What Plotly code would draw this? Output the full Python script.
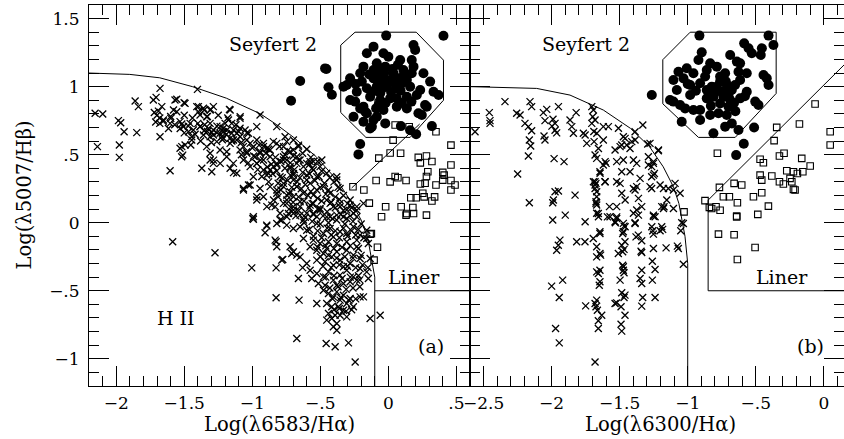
import plotly.graph_objects as go

# ---------------- data ----------------
# panel (a): log([NII]6583/Ha) vs log([OIII]5007/Hb)
a_hii_pts = [
    (-2.155, 0.804), (-2.099, 0.799), (-2.138, 0.559), (-1.984, 0.750), (-1.967, 0.735), (-1.942, 0.669),
    (-1.977, 0.571), (-1.977, 0.480), (-1.861, 0.894), (-1.837, 0.853), (-1.849, 0.662), (-1.727, 0.902),
    (-1.707, 0.921), (-1.678, 0.987), (-1.665, 0.853), (-1.72, 0.81), (-1.70, 0.79), (-1.68, 0.77),
    (-1.71, 0.74), (-1.68, 0.73), (-1.655, 0.745), (-1.69, 0.82), (-1.678, 0.632), (-1.604, 0.382),
    (-1.555, 0.907), (-1.501, 0.882), (-1.579, 0.828), (-1.599, 0.767), (-1.616, 0.693), (-1.518, 0.725),
    (-1.506, 0.706), (-1.530, 0.693), (-1.469, 0.669), (-1.518, 0.559), (-1.511, 0.497), (-1.403, 0.980),
    (-1.396, 0.853), (-1.354, 0.828), (-1.305, 0.833), (-1.384, 0.792), (-1.384, 0.706), (-1.354, 0.676),
    (-1.322, 0.693), (-1.298, 0.662), (-1.285, 0.645), (-1.359, 0.645), (-1.371, 0.400), (-1.298, 0.375),
    (-1.445, 0.632), (-1.452, 0.571), (-1.168, 0.833), (-1.089, 0.779), (-1.236, 0.706), (-1.212, 0.669),
    (-1.187, 0.681), (-1.151, 0.657), (-1.224, 0.632), (-1.163, 0.620), (-1.138, 0.608), (-1.114, 0.657),
    (-1.089, 0.632), (-1.31, 0.51), (-1.285, 0.460), (-1.236, 0.436), (-1.163, 0.400), (-1.138, 0.368),
    (-1.568, 0.902), (-1.555, 0.816), (-1.494, 0.877), (-1.408, 0.853), (-1.396, 0.816), (-1.359, 0.841),
    (-1.310, 0.828), (-1.286, 0.853), (-1.335, 0.779), (-1.163, 0.828), (-1.090, 0.767), (-1.175, 0.755),
    (-0.943, 0.792), (-1.653, 0.755), (-1.604, 0.730), (-1.531, 0.743), (-1.506, 0.706), (-1.457, 0.730),
    (-1.433, 0.681), (-1.384, 0.706), (-1.310, 0.730), (-1.286, 0.681), (-1.237, 0.657), (-1.212, 0.694),
    (-1.151, 0.730), (-1.139, 0.681), (-1.090, 0.694), (-1.053, 0.681), (-1.028, 0.657), (-0.967, 0.706),
    (-1.310, 0.632), (-1.261, 0.596), (-1.212, 0.620), (-1.163, 0.583), (-1.114, 0.608), (-1.065, 0.559),
    (-1.016, 0.583), (-0.967, 0.608), (-0.918, 0.559), (-0.869, 0.534), (-0.820, 0.583), (-0.771, 0.559),
    (-0.722, 0.522), (-1.237, 0.534), (-1.188, 0.522), (-1.335, 0.559), (-1.494, 0.571), (-1.445, 0.608),
    (-1.090, 0.534), (-1.041, 0.522), (-0.943, 0.510), (-0.845, 0.596), (-0.747, 0.596), (-0.698, 0.534),
    (-1.531, 0.547), (-1.519, 0.485), (-1.310, 0.461), (-1.286, 0.436), (-1.188, 0.485), (-1.139, 0.436),
    (-1.065, 0.461), (-1.016, 0.412), (-0.967, 0.436), (-0.918, 0.461), (-0.869, 0.387), (-0.820, 0.424),
    (-0.771, 0.461), (-0.722, 0.400), (-0.673, 0.436), (-0.624, 0.412), (-0.600, 0.350), (-0.551, 0.387),
    (-0.502, 0.412), (-0.453, 0.363), (-0.649, 0.461), (-0.575, 0.449), (-1.114, 0.363), (-0.992, 0.338),
    (-0.894, 0.350), (-0.796, 0.338), (-0.698, 0.350), (-0.526, 0.338), (-1.065, 0.252), (-1.016, 0.277),
    (-0.967, 0.191), (-0.943, 0.252), (-0.869, 0.265), (-0.820, 0.240), (-0.771, 0.289), (-0.722, 0.228),
    (-0.673, 0.265), (-0.624, 0.216), (-0.575, 0.289), (-0.526, 0.240), (-0.477, 0.265), (-0.428, 0.216),
    (-0.379, 0.314), (-0.355, 0.252), (-0.600, 0.314), (-0.551, 0.203), (-0.698, 0.314), (-0.747, 0.203),
    (-0.832, 0.118), (-0.992, 0.044), (-0.796, 0.069), (-0.747, 0.142), (-0.698, 0.093), (-0.649, 0.118),
    (-0.600, 0.069), (-0.551, 0.142), (-0.502, 0.093), (-0.453, 0.167), (-0.404, 0.118), (-0.355, 0.142),
    (-0.306, 0.093), (-0.624, 0.020), (-0.526, 0.044), (-0.428, 0.044), (-0.330, 0.044), (-0.256, 0.069),
    (-0.232, 0.118), (-0.281, 0.167), (-1.040, 0.608), (-0.991, 0.559), (-1.040, 0.510), (-0.979, 0.485),
    (-0.942, 0.522), (-0.918, 0.583), (-0.893, 0.546), (-0.869, 0.485), (-0.967, 0.436), (-0.918, 0.387),
    (-0.881, 0.362), (-0.844, 0.412), (-0.820, 0.436), (-0.771, 0.485), (-0.746, 0.461), (-0.722, 0.412),
    (-0.697, 0.362), (-0.673, 0.485), (-1.065, 0.240), (-1.028, 0.277), (-0.967, 0.167), (-0.918, 0.191),
    (-0.893, 0.118), (-0.844, 0.167), (-0.820, 0.216), (-0.771, 0.265), (-0.746, 0.167), (-0.697, 0.191),
    (-0.673, 0.265), (-0.996, 0.032), (-0.795, 0.020), (-0.746, 0.044), (-0.697, 0.069),
    (-0.820, 0.706), (-0.759, 0.632), (-0.698, 0.608), (-0.661, 0.559), (-0.600, 0.436), (-0.551, 0.449),
    (-0.489, 0.461), (-0.379, 0.338),
    (-0.857, 0.129), (-0.771, 0.142), (-0.698, 0.117), (-0.649, 0.154), (-0.575, 0.129), (-0.502, 0.105),
    (-0.428, 0.142), (-0.355, 0.117), (-0.281, 0.129), (-0.232, 0.092), (-0.183, 0.142), (-0.734, 0.068),
    (-0.649, 0.056), (-0.551, 0.068), (-0.453, 0.043), (-0.379, 0.056), (-0.306, 0.031), (-0.232, 0.043),
    (-0.784, 0.019), (-0.820, -0.006), (-0.747, -0.018), (-0.698, -0.042), (-0.649, -0.030), (-0.600, -0.055),
    (-0.526, -0.006), (-0.477, -0.079), (-0.428, -0.042), (-0.404, -0.104), (-0.355, -0.067), (-0.306, -0.079),
    (-0.257, -0.030), (-0.208, -0.091), (-0.159, -0.055), (-0.624, -0.116), (-0.551, -0.128), (-0.502, -0.153),
    (-0.440, -0.140), (-0.379, -0.153), (-0.306, -0.140), (-0.232, -0.128), (-0.159, -0.116), (-0.575, -0.177),
    (-0.526, -0.202), (-0.477, -0.226), (-0.453, -0.189), (-0.416, -0.251), (-0.379, -0.214), (-0.355, -0.275),
    (-0.306, -0.202), (-0.257, -0.238), (-0.208, -0.263), (-0.281, -0.300), (-0.404, -0.312), (-0.465, -0.287),
    (-0.526, -0.275), (-0.330, -0.324), (-0.232, -0.177), (-0.649, -0.251), (-0.600, -0.300), (-0.825, -0.140),
    (-0.820, -0.177), (-0.722, -0.177), (-0.710, -0.226), (-0.784, -0.275), (-0.894, -0.018), (-0.906, -0.074),
    (-0.992, 0.026), (-1.274, -0.221), (-1.004, -0.332), (-0.825, -0.332), (-1.585, -0.140), (-0.575, -0.349),
    (-0.526, -0.373), (-0.477, -0.398), (-0.440, -0.361), (-0.404, -0.422), (-0.355, -0.385), (-0.306, -0.349),
    (-0.257, -0.398), (-0.208, -0.336), (-0.159, -0.361), (-0.514, -0.447), (-0.465, -0.459), (-0.379, -0.459),
    (-0.330, -0.447), (-0.281, -0.434), (-0.232, -0.422), (-0.661, -0.410), (-0.563, -0.410), (-0.147, -0.410),
    (-0.477, -0.496), (-0.440, -0.520), (-0.404, -0.545), (-0.379, -0.508), (-0.355, -0.569), (-0.330, -0.533),
    (-0.306, -0.594), (-0.281, -0.557), (-0.257, -0.618), (-0.367, -0.618), (-0.416, -0.618), (-0.453, -0.594),
    (-0.208, -0.545), (-0.183, -0.545), (-0.330, -0.643), (-0.526, -0.594), (-0.825, -0.552), (-0.656, -0.569),
    (-0.440, -0.667), (-0.416, -0.704), (-0.391, -0.680), (-0.453, -0.716), (-0.379, -0.741), (-0.355, -0.680),
    (-0.306, -0.692), (-0.404, -0.765), (-0.379, -0.790), (-0.673, -0.851), (-0.457, -0.888), (-0.391, -0.912),
    (-0.293, -0.883), (-0.134, -0.704), (-0.060, -0.680), (-0.244, -1.023), (-0.893, -0.025), (-0.832, -0.128),
    (-0.776, -0.270), (-0.698, -0.214), (-0.673, -0.238), (-0.147, -0.153), (-0.134, -0.263), (-0.630, -0.330),
    (-0.150, -0.330), (-0.210, -0.420),
    # extra points filling the dense H II sequence
    (-1.00, 0.55), (-0.95, 0.57), (-0.88, 0.54), (-0.80, 0.56), (-0.74, 0.53), (-0.66, 0.57), (-0.60, 0.54),
    (-1.08, 0.50), (-0.99, 0.49), (-0.90, 0.51), (-0.83, 0.48), (-0.76, 0.50), (-0.70, 0.49), (-0.63, 0.51),
    (-0.57, 0.48), (-1.03, 0.44), (-0.94, 0.46), (-0.86, 0.43), (-0.79, 0.45), (-0.72, 0.44), (-0.66, 0.46),
    (-0.58, 0.43), (-0.52, 0.45), (-0.96, 0.39), (-0.89, 0.41), (-0.82, 0.38), (-0.76, 0.40), (-0.69, 0.39),
    (-0.63, 0.37), (-0.56, 0.40), (-0.49, 0.38), (-0.93, 0.34), (-0.85, 0.36), (-0.78, 0.33), (-0.72, 0.35),
    (-0.65, 0.33), (-0.58, 0.36), (-0.51, 0.34), (-0.43, 0.33), (-0.88, 0.30), (-0.81, 0.29), (-0.74, 0.31),
    (-0.67, 0.30), (-0.61, 0.28), (-0.54, 0.31), (-0.47, 0.29), (-0.40, 0.30), (-0.79, 0.24), (-0.71, 0.26),
    (-0.64, 0.25), (-0.57, 0.23), (-0.50, 0.26), (-0.44, 0.24), (-0.37, 0.26), (-0.81, 0.19), (-0.73, 0.21),
    (-0.66, 0.19), (-0.59, 0.20), (-0.52, 0.18), (-0.46, 0.21), (-0.39, 0.19), (-0.33, 0.20), (-0.70, 0.15),
    (-0.62, 0.16), (-0.56, 0.14), (-0.49, 0.16), (-0.42, 0.15), (-0.36, 0.17), (-0.30, 0.14), (-0.73, 0.10),
    (-0.66, 0.09), (-0.58, 0.11), (-0.52, 0.10), (-0.45, 0.08), (-0.39, 0.11), (-0.33, 0.09), (-0.27, 0.11),
    (-0.68, 0.05), (-0.61, 0.04), (-0.55, 0.06), (-0.48, 0.05), (-0.41, 0.03), (-0.35, 0.06), (-0.28, 0.05),
    (-0.62, 0.00), (-0.56, 0.01), (-0.50, -0.01), (-0.44, 0.00), (-0.38, 0.02), (-0.32, -0.01), (-0.26, 0.01),
    (-0.20, -0.01), (-0.58, -0.05), (-0.52, -0.06), (-0.45, -0.04), (-0.39, -0.06), (-0.33, -0.04),
    (-0.27, -0.06), (-0.22, -0.05), (-0.55, -0.10), (-0.49, -0.11), (-0.42, -0.09), (-0.36, -0.11),
    (-0.30, -0.10), (-0.24, -0.09), (-0.18, -0.11), (-0.52, -0.18), (-0.46, -0.17), (-0.40, -0.19),
    (-0.34, -0.18), (-0.28, -0.17), (-0.22, -0.19), (-0.50, -0.25), (-0.44, -0.24), (-0.38, -0.26),
    (-0.32, -0.25), (-0.26, -0.26), (-0.20, -0.24), (-0.48, -0.32), (-0.42, -0.33), (-0.36, -0.31),
    (-0.30, -0.32), (-0.24, -0.33), (-0.19, -0.31), (-0.46, -0.40), (-0.40, -0.39), (-0.34, -0.41),
    (-0.28, -0.40), (-0.22, -0.39), (-0.43, -0.48), (-0.37, -0.47), (-0.31, -0.49), (-0.26, -0.48),
    (-0.21, -0.47), (-0.41, -0.56), (-0.35, -0.55), (-0.29, -0.57), (-0.24, -0.56), (-0.40, -0.64),
    (-0.36, -0.63), (-0.31, -0.65), (-0.27, -0.64),
    (-1.60, 0.78), (-1.50, 0.79), (-1.44, 0.77), (-1.33, 0.78), (-1.25, 0.79), (-1.18, 0.77), (-1.57, 0.72),
    (-1.47, 0.71), (-1.40, 0.73), (-1.35, 0.72), (-1.26, 0.71), (-1.20, 0.73), (-1.12, 0.72), (-1.50, 0.66),
    (-1.42, 0.65), (-1.33, 0.67), (-1.26, 0.66), (-1.19, 0.65), (-1.10, 0.67), (-1.04, 0.66), (-1.38, 0.60),
    (-1.30, 0.59), (-1.22, 0.61), (-1.15, 0.60), (-1.08, 0.59),
]
a_sey_pts = [
    (-0.016, 1.375), (-0.109, 1.294), (-0.036, 1.245), (-0.158, 1.245), (0.185, 1.306), (0.197, 1.270),
    (0.000, 1.220), (0.087, 1.196), (0.172, 1.196), (-0.085, 1.171), (-0.183, 1.147), (-0.207, 1.098),
    (-0.281, 1.061), (-0.305, 1.012), (-0.330, 1.000), (-0.060, 1.122), (-0.036, 1.061), (-0.109, 1.061),
    (0.038, 1.098), (0.111, 1.122), (0.185, 1.147), (0.258, 1.098), (0.307, 1.037), (0.332, 0.963),
    (0.369, 0.939), (0.234, 0.975), (0.160, 1.000), (0.062, 0.988), (-0.011, 1.000), (-0.085, 1.000),
    (-0.158, 0.988), (-0.232, 0.963), (-0.281, 0.902), (-0.244, 0.890), (-0.183, 0.853), (-0.170, 0.816),
    (-0.109, 0.755), (-0.121, 0.706), (-0.036, 0.828), (-0.060, 0.902), (0.013, 0.914), (0.062, 0.914),
    (0.136, 0.926), (0.209, 0.939), (0.270, 0.865), (0.282, 0.853), (0.221, 0.804), (0.136, 0.840),
    (0.062, 0.853), (-0.023, 0.730), (-0.085, 0.779), (-0.256, 0.779), (-0.158, 0.804), (-0.072, 0.865),
    (-0.060, 0.951), (-0.134, 0.926), (0.013, 1.049), (-0.085, 1.086), (-0.023, 1.147), (0.062, 1.061),
    (0.099, 1.024), (-0.109, 1.122), (-0.195, 1.037), (-0.048, 1.037), (0.172, 1.098), (0.136, 1.049),
    (0.246, 0.791), (-0.134, 0.693), (-0.207, 0.840), (-0.183, 0.742),
    (-0.03, 1.10), (0.03, 1.13), (-0.07, 1.03), (0.02, 0.96), (0.09, 0.97), (-0.12, 0.96), (-0.02, 0.88),
    (0.10, 0.88), (-0.14, 1.09), (0.05, 1.02), (-0.05, 0.98), (0.11, 1.08), (-0.09, 0.84), (0.17, 0.89),
    (-0.24, 1.02), (0.07, 1.16),
    (0.405, 1.374), (-0.465, 1.134), (-0.455, 1.130), (-0.648, 1.041), (-0.440, 0.995), (-0.415, 0.940),
    (-0.715, 0.896), (-0.207, 0.578), (-0.220, 0.502), (0.092, 0.710), (0.160, 0.680), (0.204, 0.651),
    (0.320, 0.710),
]
a_lin_pts = [
    (-0.075, 0.880), (0.050, 0.718), (0.153, 0.705), (0.350, 0.668), (0.460, 0.570), (0.035, 0.607),
    (0.013, 0.512), (0.090, 0.510), (-0.070, 0.475), (0.220, 0.480), (0.280, 0.490), (0.235, 0.440),
    (0.320, 0.450), (0.460, 0.424), (0.290, 0.375), (0.400, 0.370), (0.050, 0.340), (0.070, 0.330),
    (0.013, 0.300), (-0.090, 0.310), (0.130, 0.310), (0.280, 0.340), (0.270, 0.290), (0.235, 0.285),
    (0.350, 0.277), (0.410, 0.350), (0.400, 0.313), (0.460, 0.310), (0.490, 0.277), (0.460, 0.240),
    (-0.180, 0.240), (-0.260, 0.264), (-0.140, 0.144), (-0.020, 0.117), (0.094, 0.117), (0.180, 0.112),
    (0.205, 0.183), (0.165, 0.183), (0.263, 0.190), (0.253, 0.217), (0.340, 0.190), (0.320, 0.160),
    (0.280, 0.056), (-0.050, 0.044), (0.135, 0.068), (0.185, 0.068), (0.130, 0.056), (-0.134, -0.084),
    (-0.125, -0.080), (-0.080, -0.180), (-0.105, -0.275),
]

# panel (b): log([OI]6300/Ha) vs log([OIII]5007/Hb)
b_hii_pts = [
    (-2.563, 0.669), (-2.458, 0.809), (-2.453, 0.750), (-2.453, 0.730), (-2.343, 0.890), (-2.257, 0.804),
    (-2.232, 0.792), (-2.159, 0.890), (-2.147, 0.853), (-2.196, 0.730), (-2.171, 0.706), (-2.147, 0.676),
    (-2.164, 0.608), (-2.154, 0.564), (-2.171, 0.490), (-2.250, 0.358), (-2.164, 0.147), (-2.061, 0.809),
    (-2.036, 0.833), (-2.049, 0.750), (-1.990, 0.760), (-1.975, 0.730), (-1.998, 0.710), (-1.975, 0.680),
    (-1.963, 0.660), (-1.950, 0.853), (-2.056, 0.637), (-2.049, 0.608), (-1.820, 0.809), (-1.865, 0.755),
    (-1.852, 0.706), (-1.840, 0.657), (-1.767, 0.657), (-1.754, 0.645), (-1.742, 0.583), (-1.982, 0.471),
    (-1.909, 0.449), (-1.975, 0.228), (-1.950, 0.233), (-1.987, 0.167), (-1.992, 0.147), (-1.828, 0.203),
    (-1.900, 0.056), (-1.992, 0.020), (-1.754, 0.007), (-1.705, 0.853), (-1.693, 0.828), (-1.698, 0.779),
    (-1.681, 0.755), (-1.705, 0.730), (-1.690, 0.670), (-1.668, 0.657), (-1.688, 0.596), (-1.620, 0.706),
    (-1.583, 0.706), (-1.509, 0.694), (-1.620, 0.608), (-1.656, 0.546), (-1.681, 0.498), (-1.669, 0.473),
    (-1.607, 0.449), (-1.600, 0.436), (-1.620, 0.424), (-1.644, 0.363), (-1.607, 0.301), (-1.693, 0.301),
    (-1.674, 0.289), (-1.681, 0.252), (-1.669, 0.191), (-1.674, 0.142), (-1.669, 0.130), (-1.669, 0.069),
    (-1.656, 0.044), (-1.575, 0.118), (-1.522, 0.118), (-1.571, 0.044), (-1.534, 0.007), (-1.473, -0.005),
    (-1.460, -0.030), (-1.522, 0.301), (-1.497, 0.289), (-1.485, 0.216), (-1.460, 0.167), (-1.485, 0.375),
    (-1.522, 0.449), (-1.473, 0.461), (-1.473, 0.632), (-1.460, 0.620), (-1.534, 0.534), (-1.497, 0.559),
    (-1.485, 0.571), (-1.448, 0.571), (-1.411, 0.596), (-1.387, 0.608), (-1.387, 0.669), (-1.330, 0.718),
    (-1.424, 0.546), (-1.399, 0.461), (-1.375, 0.436), (-1.424, 0.375), (-1.375, 0.265), (-1.387, 0.240),
    (-1.399, 0.252), (-1.350, 0.326), (-1.362, 0.179), (-1.338, 0.118), (-1.375, 0.093), (-1.362, 0.056),
    (-1.399, 0.069), (-1.387, 0.000), (-1.289, 0.424), (-1.265, 0.412), (-1.252, 0.449), (-1.277, 0.583),
    (-1.215, 0.534), (-1.265, 0.338), (-1.252, 0.350), (-1.203, 0.277), (-1.178, 0.252), (-1.277, 0.265),
    (-1.265, 0.252), (-1.142, 0.252), (-1.105, 0.240), (-1.093, 0.289), (-1.154, 0.167), (-1.191, 0.118),
    (-1.178, 0.105), (-1.105, 0.105), (-1.252, 0.056), (-1.240, 0.044), (-1.056, 0.216), (-1.264, -0.030),
    (-1.191, -0.030), (-1.044, 0.000), (-1.939, -0.128), (-1.951, -0.165), (-1.963, -0.202), (-1.816, -0.140),
    (-1.755, -0.140), (-1.694, -0.116), (-1.669, -0.177), (-1.645, -0.067), (-1.645, -0.079), (-1.674, 0.154),
    (-1.657, 0.068), (-1.532, 0.000), (-1.645, -0.226), (-1.669, -0.251), (-1.640, -0.238), (-1.669, -0.361),
    (-1.645, -0.349), (-1.657, -0.373), (-1.645, -0.434), (-1.650, -0.459), (-1.919, -0.422), (-2.000, -0.466),
    (-1.944, -0.550), (-1.750, -0.611), (-1.681, -0.594), (-1.674, -0.618), (-1.669, -0.569), (-1.664, -0.643),
    (-1.632, -0.680), (-1.657, -0.721), (-1.657, -0.778), (-1.534, -0.594), (-1.522, -0.589), (-1.490, -0.618),
    (-1.461, -0.680), (-1.490, -0.746), (-1.485, -0.797), (-1.468, -0.025), (-1.473, -0.067), (-1.478, -0.079),
    (-1.461, -0.140), (-1.468, -0.196), (-1.478, -0.214), (-1.485, -0.165), (-1.510, -0.226), (-1.473, -0.324),
    (-1.473, -0.349), (-1.468, -0.368), (-1.478, -0.312), (-1.497, -0.422), (-1.468, -0.550), (-1.485, -0.515),
    (-1.461, -0.532), (-1.387, -0.006), (-1.380, -0.104), (-1.363, -0.091), (-1.338, -0.133), (-1.338, -0.219),
    (-1.343, -0.210), (-1.338, -0.349), (-1.350, -0.410), (-1.338, -0.447), (-1.331, -0.550), (-1.338, -0.613),
    (-1.252, 0.048), (-1.257, -0.059), (-1.252, -0.084), (-1.203, -0.059), (-1.184, -0.049), (-1.252, -0.189),
    (-1.260, -0.283), (-1.240, -0.344), (-1.260, -0.422), (-1.240, -0.550), (-1.159, -0.185), (-1.076, -0.172),
    (-1.069, -0.189), (-1.051, -0.059), (-1.032, -0.006), (-1.032, -0.305), (-1.174, 0.117), (-1.681, -1.023),
    (-1.971, -0.778), (-1.944, -0.883), (-1.522, 0.043), (-1.522, 0.031), (-1.590, 0.043), (-1.681, 0.301),
    (-1.681, 0.277), (-1.669, 0.228), (-1.645, 0.375), (-1.608, 0.301), (-1.294, 0.578), (-1.216, 0.529),
    (-1.289, 0.485), (-1.252, 0.436), (-1.245, 0.362),
]
b_sey_pts = [
    (-0.914, 1.375), (-0.406, 1.375), (-0.370, 1.306), (-0.585, 1.318), (-0.553, 1.282), (-0.529, 1.245),
    (-0.455, 1.282), (-0.463, 1.233), (-0.897, 1.252), (-0.688, 1.233), (-0.639, 1.184), (-0.615, 1.171),
    (-0.921, 1.196), (-0.835, 1.171), (-1.007, 1.135), (-1.068, 1.110), (-1.105, 1.049), (-1.031, 1.061),
    (-0.958, 1.098), (-0.860, 1.122), (-0.786, 1.147), (-0.725, 1.098), (-0.762, 1.037), (-0.823, 1.000),
    (-0.909, 1.025), (-0.982, 1.012), (-1.080, 0.975), (-1.130, 0.902), (-1.105, 0.890), (-1.056, 0.865),
    (-1.019, 0.840), (-0.958, 0.828), (-0.909, 0.828), (-0.860, 0.914), (-0.811, 0.926), (-0.750, 0.963),
    (-0.713, 1.012), (-0.652, 1.012), (-0.615, 1.049), (-0.627, 1.110), (-0.566, 1.098), (-0.443, 1.086),
    (-0.406, 1.012), (-0.419, 1.061), (-0.566, 0.963), (-0.615, 0.914), (-0.688, 0.902), (-0.762, 0.877),
    (-0.700, 0.853), (-0.774, 0.804), (-0.835, 0.791), (-0.909, 0.755), (-1.044, 0.742), (-0.811, 0.657),
    (-0.725, 0.706), (-0.676, 0.730), (-0.627, 0.681), (-0.504, 0.890), (-0.480, 0.865), (-0.713, 0.791),
    (-0.982, 0.939), (-0.860, 0.975), (-0.737, 0.926), (-0.676, 0.975), (-0.786, 1.000), (-0.872, 1.074),
    (-0.762, 1.074),
    (-0.74, 0.95), (-0.70, 0.93), (-0.66, 0.88), (-0.80, 0.96), (-0.72, 1.04), (-0.69, 0.97), (-0.83, 0.86),
    (-0.94, 0.97), (-1.00, 1.02), (-0.58, 0.93), (-0.65, 0.82),
    (-0.512, 0.700), (-0.588, 0.580), (-1.264, 0.939), (-0.644, 0.497),
]
b_lin_pts = [
    (-0.064, 0.872), (-0.346, 0.701), (-0.179, 0.725), (0.047, 0.669), (0.047, 0.571), (-0.365, 0.603),
    (-0.782, 0.510), (-0.468, 0.466), (-0.444, 0.441), (-0.326, 0.490), (-0.292, 0.510), (-0.162, 0.473),
    (-0.100, 0.417), (-0.272, 0.382), (-0.223, 0.375), (-0.154, 0.375), (-0.468, 0.350), (-0.456, 0.313),
    (-0.382, 0.343), (-0.326, 0.301), (-0.297, 0.284), (-0.248, 0.326), (-0.235, 0.301), (-0.223, 0.245),
    (-0.211, 0.240), (-0.194, 0.362), (-0.517, 0.191), (-0.456, 0.220), (-0.659, 0.289), (-0.603, 0.277),
    (-0.767, 0.260), (-0.738, 0.191), (-0.694, 0.191), (-0.635, 0.147), (-0.407, 0.122), (-0.485, 0.061),
    (-0.640, 0.049), (-0.640, 0.043), (-0.841, 0.113), (-0.824, 0.105), (-0.792, 0.117), (-0.762, 0.092),
    (-0.873, 0.162), (-1.027, 0.080), (-0.774, -0.084), (-0.659, -0.089), (-0.505, -0.182), (-0.635, -0.270),
]

# classification boundaries
a_curve_x = [-2.2, -1.9, -1.68, -1.44, -1.19, -0.94, -0.82, -0.70, -0.53, -0.38, -0.28, -0.20, -0.15, -0.12, -0.10, -0.10]
a_curve_y = [1.10, 1.09, 1.065, 1.00, 0.915, 0.80, 0.72, 0.63, 0.485, 0.315, 0.165, 0.02, -0.12, -0.28, -0.40, -1.2]
a_liner_x = [-0.10, 0.60]
a_liner_y = [-0.50, -0.50]
a_diag_x = [-0.27, 0.23]
a_diag_y = [0.255, 0.725]
a_oct_x = [-0.35, -0.245, 0.205, 0.405, 0.405, 0.16, -0.165, -0.35, -0.35]
a_oct_y = [1.305, 1.40, 1.40, 1.195, 0.90, 0.627, 0.627, 0.81, 1.305]

b_curve_x = [-2.6, -2.3, -2.11, -1.865, -1.62, -1.42, -1.28, -1.18, -1.105, -1.065, -1.04, -1.02, -1.00, -1.00]
b_curve_y = [1.0, 0.995, 0.987, 0.938, 0.828, 0.693, 0.558, 0.411, 0.264, 0.142, 0.0, -0.10, -0.30, -1.2]
b_liner_x = [0.25, -0.85, -0.85]
b_liner_y = [-0.50, -0.50, 0.166]
b_diag_x = [-0.85, 0.25]
b_diag_y = [0.166, 1.26]
b_oct_x = [-1.183, -0.982, -0.35, -0.35, -0.651, -0.921, -1.183, -1.183]
b_oct_y = [1.198, 1.40, 1.40, 0.95, 0.627, 0.627, 0.874, 1.198]

# axes / ticks
y_tickvals = [-1, -0.5, 0, 0.5, 1, 1.5]
y_ticktext = ["\u22121", "\u2212.5", "0", ".5", "1", "1.5"]
a_tickvals = [-2, -1.5, -1, -0.5, 0, 0.5]
a_ticktext = ["\u22122", "\u22121.5", "\u22121", "\u2212.5", "0", ".5"]
b_tickvals = [-2.5, -2, -1.5, -1, -0.5, 0]
b_ticktext = ["\u22122.5", "\u22122", "\u22121.5", "\u22121", "\u2212.5", "0"]

labels = [
    ("Seyfert 2", -0.85, 1.31, "x", "y"),
    ("H II", -1.56, -0.70, "x", "y"),
    ("Liner", 0.19, -0.40, "x", "y"),
    ("(a)", 0.31, -0.905, "x", "y"),
    ("Seyfert 2", -1.75, 1.31, "x2", "y2"),
    ("Liner", -0.31, -0.40, "x2", "y2"),
    ("(b)", -0.10, -0.905, "x2", "y2"),
]

# ---------------- figure ----------------
FONT = "DejaVu Serif"
fig = go.Figure()


def unzip(pts):
    return [p[0] for p in pts], [p[1] for p in pts]


def add_points(pts, kind, xa, ya):
    xs, ys = unzip(pts)
    if kind == "x":
        m = dict(symbol="x-thin-open", size=7, color="black", line=dict(color="black", width=1.3))
    elif kind == "o":
        m = dict(symbol="circle", size=10, color="black", line=dict(width=0))
    else:
        m = dict(symbol="square-open", size=6.5, color="black", line=dict(color="black", width=1.1))
    fig.add_trace(go.Scatter(x=xs, y=ys, mode="markers", marker=m, xaxis=xa, yaxis=ya,
                             showlegend=False, hoverinfo="skip"))


def add_line(xs, ys, xa, ya):
    fig.add_trace(go.Scatter(x=xs, y=ys, mode="lines", line=dict(color="black", width=1),
                             xaxis=xa, yaxis=ya, showlegend=False, hoverinfo="skip"))


for xs, ys in [(a_curve_x, a_curve_y), (a_liner_x, a_liner_y), (a_diag_x, a_diag_y), (a_oct_x, a_oct_y)]:
    add_line(xs, ys, "x", "y")
for xs, ys in [(b_curve_x, b_curve_y), (b_liner_x, b_liner_y), (b_diag_x, b_diag_y), (b_oct_x, b_oct_y)]:
    add_line(xs, ys, "x2", "y2")

add_points(a_hii_pts, "x", "x", "y")
add_points(a_lin_pts, "s", "x", "y")
add_points(a_sey_pts, "o", "x", "y")
add_points(b_hii_pts, "x", "x2", "y2")
add_points(b_lin_pts, "s", "x2", "y2")
add_points(b_sey_pts, "o", "x2", "y2")

W, H = 844, 439
ML, MR, MT, MB = 89, 0, 5, 53
plot_w = W - ML - MR
panel_a_px = 381.0
split = panel_a_px / plot_w
px_per_unit = panel_a_px / 2.8
b_right = -2.6 + (plot_w - panel_a_px) / px_per_unit

tickfont = dict(family=FONT, size=17, color="black")
minor = dict(tickmode="linear", tick0=0, dtick=0.1, ticklen=10, ticks="inside",
             tickcolor="black", tickwidth=1)
common = dict(showline=True, linecolor="black", linewidth=1, mirror="ticks", ticks="inside",
              ticklen=20, tickwidth=1, tickcolor="black", showgrid=False, zeroline=False,
              tickfont=tickfont, tickmode="array", minor=minor)

fig.update_layout(
    width=W, height=H,
    margin=dict(l=ML, r=MR, t=MT, b=MB, pad=0),
    paper_bgcolor="white", plot_bgcolor="white",
    showlegend=False, hovermode=False,
    xaxis=dict(domain=[0, split], range=[-2.2, 0.6], tickvals=a_tickvals, ticktext=a_ticktext,
               anchor="y", ticklabelstandoff=2, **common),
    yaxis=dict(domain=[0, 1], range=[-1.2, 1.6], tickvals=y_tickvals, ticktext=y_ticktext,
               anchor="x", ticklabelstandoff=5, **common),
    xaxis2=dict(domain=[split, 1], range=[-2.6, b_right], tickvals=b_tickvals, ticktext=b_ticktext,
                anchor="y2", ticklabelstandoff=2, **common),
    yaxis2=dict(domain=[0, 1], range=[-1.2, 1.6], tickvals=y_tickvals, ticktext=y_ticktext,
                anchor="x2", showticklabels=False, **common),
)

for text, x, y, xr, yr in labels:
    fig.add_annotation(text=text, x=x, y=y, xref=xr, yref=yr, showarrow=False,
                       font=dict(family=FONT, size=19, color="black"),
                       xanchor="center", yanchor="middle")

title_font = dict(family=FONT, size=19.5, color="black")
fig.add_annotation(text="Log(\u03bb6583/H\u03b1)", xref="x domain", yref="paper", x=0.5, y=0,
                   yanchor="middle", yshift=-38, showarrow=False, font=title_font)
fig.add_annotation(text="Log(\u03bb6300/H\u03b1)", xref="x2 domain", yref="paper", x=0.5, y=0,
                   yanchor="middle", yshift=-38, xshift=3, showarrow=False, font=title_font)
fig.add_annotation(text="Log(\u03bb5007/H\u03b2)", xref="paper", yref="paper", x=0, y=0.5,
                   xanchor="center", yanchor="middle", xshift=-65, textangle=-90,
                   showarrow=False, font=title_font)

fig.write_html("out.html")
